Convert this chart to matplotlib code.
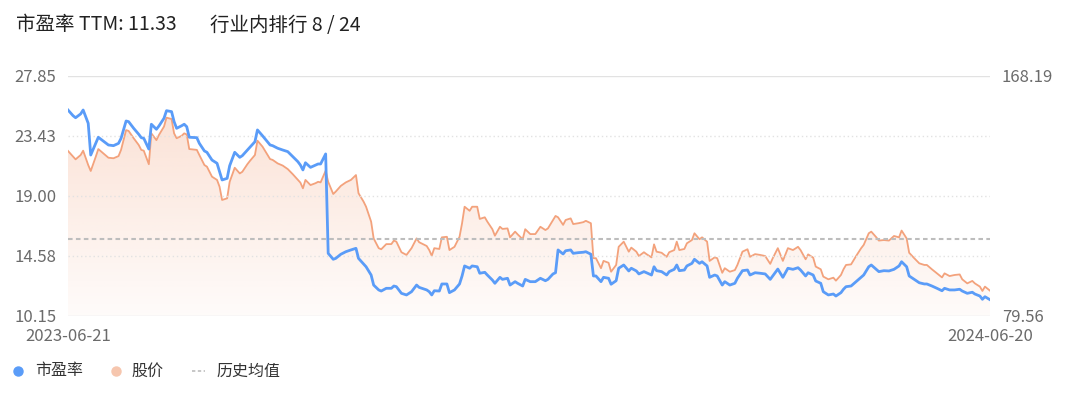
import numpy as np
import pandas as pd
import matplotlib
matplotlib.use('Agg')
import matplotlib.pyplot as plt
import matplotlib.dates as mdates
from matplotlib.lines import Line2D
from matplotlib.colors import to_rgb

plt.rcParams['font.family'] = ['Noto Sans CJK SC', 'DejaVu Sans']

# ---------------- data ----------------
start_date = '2023-06-21'
day_offset = [0, 2, 3, 5, 6, 8, 9, 11, 12, 14, 16, 18, 20, 21, 23, 24, 26, 28, 29, 30,
              32, 33, 35, 36, 38, 39, 41, 42, 43, 45, 46, 47, 48, 51, 52, 54, 55, 57, 59, 60,
              61, 63, 64, 66, 68, 69, 71, 72, 74, 75, 77, 80, 81, 83, 85, 87, 89, 91, 92, 93,
              94, 96, 98, 99, 100, 102, 103, 105, 106, 108, 110, 112, 114, 115, 117, 118, 120, 121, 123, 124,
              126, 128, 129, 130, 132, 134, 136, 138, 139, 142, 143, 144, 145, 147, 148, 150, 151, 153, 155, 156,
              157, 159, 160, 162, 163, 165, 166, 168, 169, 171, 172, 174, 175, 177, 178, 180, 181, 183, 185, 187,
              189, 190, 192, 193, 194, 196, 197, 199, 200, 202, 204, 205, 207, 208, 209, 211, 212, 214, 215, 217,
              218, 220, 222, 223, 225, 226, 228, 229, 231, 232, 233, 235, 237, 238, 240, 241, 242, 244, 245, 247,
              248, 250, 251, 253, 254, 256, 257, 259, 260, 262, 264, 265, 267, 269, 270, 272, 274, 276, 278, 279,
              281, 283, 285, 287, 289, 290, 292, 293, 295, 296, 298, 299, 301, 303, 304, 306, 307, 308, 310, 312,
              314, 315, 317, 318, 320, 321, 323, 325, 327, 329, 330, 332, 333, 335, 337, 339, 340, 342, 344, 346,
              347, 349, 351, 353, 354, 356, 358, 359, 361, 362, 363, 365]

pe_ttm = [25.32, 24.90, 24.75, 25.03, 25.32, 24.34, 22.00, 22.86, 23.31, 23.03, 22.74, 22.69, 22.86, 23.23, 24.51, 24.46, 23.97, 23.53, 23.28, 23.23,
          22.44, 24.27, 23.90, 24.14, 24.71, 25.27, 25.20, 24.46, 23.97, 24.16, 24.27, 24.09, 23.31, 23.28, 22.86, 22.30, 22.20, 21.63, 21.39, 20.77,
          20.16, 20.28, 21.21, 22.20, 21.83, 21.95, 22.37, 22.57, 22.98, 23.85, 23.42, 22.74, 22.69, 22.50, 22.37, 22.25, 21.88, 21.51, 21.26, 20.90,
          21.43, 21.09, 21.26, 21.34, 21.34, 22.08, 14.75, 14.31, 14.38, 14.68, 14.87, 15.00, 15.12, 14.38, 13.96, 13.76, 13.15, 12.41, 12.05, 11.97,
          12.17, 12.17, 12.34, 12.29, 11.80, 11.68, 11.92, 12.41, 12.24, 12.05, 11.92, 11.68, 11.99, 11.97, 12.49, 12.49, 11.85, 12.05, 12.49, 13.08,
          13.82, 13.65, 13.82, 13.76, 13.28, 13.35, 13.15, 12.78, 12.54, 12.98, 12.83, 12.91, 12.41, 12.66, 12.54, 12.34, 12.83, 12.66, 12.66, 12.91,
          12.73, 12.83, 13.23, 13.32, 15.00, 14.70, 14.94, 15.00, 14.75, 14.80, 14.83, 14.87, 14.68, 13.08, 13.08, 12.66, 12.98, 12.91, 12.47, 12.73,
          13.65, 13.89, 13.45, 13.65, 13.45, 13.23, 13.40, 13.32, 13.15, 13.76, 13.47, 13.40, 13.15, 13.40, 13.57, 13.89, 13.47, 13.52, 13.82, 14.01,
          14.31, 14.01, 14.13, 13.82, 12.98, 13.15, 13.08, 12.41, 12.66, 12.41, 12.54, 12.91, 13.47, 13.52, 13.15, 13.32, 13.28, 13.23, 12.83, 13.08,
          13.59, 12.98, 13.65, 13.57, 13.69, 13.52, 13.08, 13.32, 13.15, 12.71, 12.54, 11.92, 11.68, 11.75, 11.60, 11.85, 12.10, 12.29, 12.34, 12.66,
          12.98, 13.15, 13.76, 13.89, 13.57, 13.40, 13.47, 13.45, 13.57, 13.82, 14.13, 13.76, 13.08, 12.83, 12.58, 12.49, 12.49, 12.34, 12.17, 11.99,
          12.17, 12.05, 12.05, 12.10, 11.97, 11.80, 11.88, 11.75, 11.60, 11.36, 11.55, 11.33]

price = [140.4, 138.3, 137.3, 138.9, 140.5, 135.2, 133.0, 138.3, 141.1, 139.5, 137.9, 137.7, 138.5, 140.8, 148.1, 147.8, 145.1, 142.6, 140.8, 140.5,
         135.5, 146.9, 144.4, 146.3, 149.4, 152.7, 152.2, 146.9, 145.1, 146.0, 146.9, 146.5, 141.1, 140.8, 138.9, 135.2, 134.6, 130.9, 129.7, 127.2,
         122.3, 122.9, 129.0, 134.2, 132.1, 132.7, 135.5, 136.7, 138.9, 144.2, 142.0, 137.4, 137.1, 135.8, 135.0, 133.7, 131.8, 129.7, 128.7, 126.6,
         129.7, 127.8, 128.5, 129.0, 128.8, 133.1, 129.0, 124.5, 125.4, 127.5, 128.8, 129.7, 131.5, 124.8, 121.7, 119.8, 114.3, 108.1, 104.5, 104.1,
         106.0, 106.0, 107.3, 106.9, 103.0, 102.0, 104.5, 108.1, 106.7, 105.3, 103.8, 101.7, 104.5, 104.2, 108.5, 108.7, 103.8, 105.0, 108.7, 113.7,
         119.8, 118.3, 119.8, 119.8, 115.3, 115.9, 114.3, 111.5, 109.1, 112.4, 111.6, 111.8, 108.5, 110.6, 109.6, 107.8, 111.5, 109.7, 109.7, 112.4,
         111.2, 111.8, 114.9, 116.4, 115.9, 113.1, 114.9, 115.5, 113.4, 113.7, 114.1, 114.6, 113.7, 100.8, 100.8, 97.1, 99.8, 99.1, 95.8, 98.3,
         105.0, 106.9, 103.2, 104.7, 103.2, 101.6, 103.0, 102.3, 101.1, 105.9, 103.2, 102.8, 101.3, 103.0, 103.8, 106.9, 103.8, 104.2, 106.3, 107.5,
         110.0, 107.8, 108.5, 106.9, 99.8, 101.1, 100.8, 95.4, 97.1, 95.8, 96.4, 98.3, 103.2, 104.1, 101.3, 102.3, 102.0, 101.6, 98.7, 100.8,
         104.5, 99.8, 104.5, 103.8, 105.0, 103.8, 100.4, 102.2, 101.0, 97.7, 96.7, 94.0, 93.0, 93.6, 92.5, 94.6, 96.7, 98.3, 98.5, 101.6,
         104.5, 105.7, 110.0, 110.6, 108.5, 107.3, 107.5, 107.3, 109.0, 108.5, 111.0, 108.1, 102.8, 100.8, 98.9, 98.3, 98.3, 96.7, 95.2, 93.7,
         95.2, 94.2, 94.6, 94.8, 93.0, 91.5, 92.4, 91.5, 90.3, 88.7, 90.3, 88.8]

pe_mean = 15.81
pe_ticks = [10.15, 14.58, 19.00, 23.43, 27.85]
price_ticks = [79.56, 168.19]
title_left = '市盈率 TTM: 11.33'
title_right = '行业内排行 8 / 24'
legend_labels = ['市盈率', '股价', '历史均值']

# ---------------- style ----------------
BLUE = '#5a9cf8'
ORANGE = '#f3a27c'
ORANGE_DOT = '#f6c6ae'
TICK_COLOR = '#6b6b6b'
GRID_COLOR = '#e2e2e2'
MEAN_COLOR = '#bdbdbd'

dates = pd.Timestamp(start_date) + pd.to_timedelta(day_offset, unit='D')
xnum = mdates.date2num(dates)

W, H = 1080, 408
fig = plt.figure(figsize=(W / 100, H / 100), dpi=100)
L, R, T, B = 68, 990, 75.7, 315.7
ax1 = fig.add_axes([L / W, 1 - B / H, (R - L) / W, (B - T) / H])
ax2 = ax1.twinx()
ax1.set_zorder(ax2.get_zorder() + 1)
ax1.patch.set_visible(False)

# left axis (PE)
ax1.set_ylim(pe_ticks[0], pe_ticks[-1])
ax1.set_xlim(xnum[0], xnum[-1])
for i, t in enumerate(pe_ticks):
    if i in (0, len(pe_ticks) - 1):
        ax1.axhline(t, color=GRID_COLOR, lw=1.0, zorder=1)
    else:
        ax1.axhline(t, color=GRID_COLOR, lw=1.0, ls=(0, (1, 2)), zorder=1)
ax1.axhline(pe_mean, color=MEAN_COLOR, lw=1.5, ls=(0, (2.2, 1.6)), zorder=2)
ax1.plot(xnum, pe_ttm, color=BLUE, lw=2.0, zorder=5, solid_joinstyle='round')
ax1.set_yticks(pe_ticks)
ax1.set_yticklabels([f'{t:.2f}' for t in pe_ticks])
ax1.set_xticks([xnum[0], xnum[-1]])
ax1.set_xticklabels([dates[0].strftime('%Y-%m-%d'), dates[-1].strftime('%Y-%m-%d')])
ax1.tick_params(axis='y', length=0, pad=8.5, labelsize=12, labelcolor=TICK_COLOR)
ax1.tick_params(axis='x', length=0, pad=9, labelsize=12, labelcolor=TICK_COLOR)

# right axis (price)
ax2.set_ylim(price_ticks[0], price_ticks[-1])
ylo, yhi = price_ticks[0], price_ticks[-1]
poly = ax2.fill_between(xnum, price, ylo, color='none', lw=0)
rgb = np.array(to_rgb(ORANGE))
n = 256
grad = np.zeros((n, 2, 4))
grad[..., :3] = rgb
grad[..., 3] = np.linspace(0.04, 0.36, n)[:, None]
img = ax2.imshow(grad, extent=[xnum[0], xnum[-1], ylo, yhi], origin='lower',
                 aspect='auto', zorder=1, interpolation='bilinear')
img.set_clip_path(poly.get_paths()[0], transform=ax2.transData)
ax2.plot(xnum, price, color=ORANGE, lw=1.3, zorder=3)
ax2.set_xlim(xnum[0], xnum[-1])
ax2.set_ylim(ylo, yhi)
ax2.set_yticks(price_ticks)
ax2.set_yticklabels([f'{t:.2f}' for t in price_ticks])
ax2.tick_params(axis='y', length=0, pad=8.5, labelsize=12, labelcolor=TICK_COLOR)

for ax in (ax1, ax2):
    for s in ax.spines.values():
        s.set_visible(False)

# title
fig.text(16 / W, 1 - 25 / H, title_left, fontsize=14, color='#222222', va='center', ha='left')
fig.text(210 / W, 1 - 25 / H, title_right, fontsize=14, color='#222222', va='center', ha='left')

# legend (manual)
ly = 1 - 371 / H
fig.add_artist(Line2D([18 / W], [ly], marker='o', ms=6.5, color=BLUE, lw=0))
fig.text(35 / W, ly, legend_labels[0], fontsize=11.5, color='#333333', va='center', ha='left')
fig.add_artist(Line2D([115.5 / W], [ly], marker='o', ms=6.5, color=ORANGE_DOT, lw=0))
fig.text(131 / W, ly, legend_labels[1], fontsize=11.5, color='#333333', va='center', ha='left')
fig.add_artist(Line2D([191.5 / W, 205 / W], [ly, ly], color=MEAN_COLOR, lw=1.2, ls=(0, (2, 1.5))))
fig.text(216 / W, ly, legend_labels[2], fontsize=11.5, color='#333333', va='center', ha='left')

fig.savefig('out.png', dpi=100)
